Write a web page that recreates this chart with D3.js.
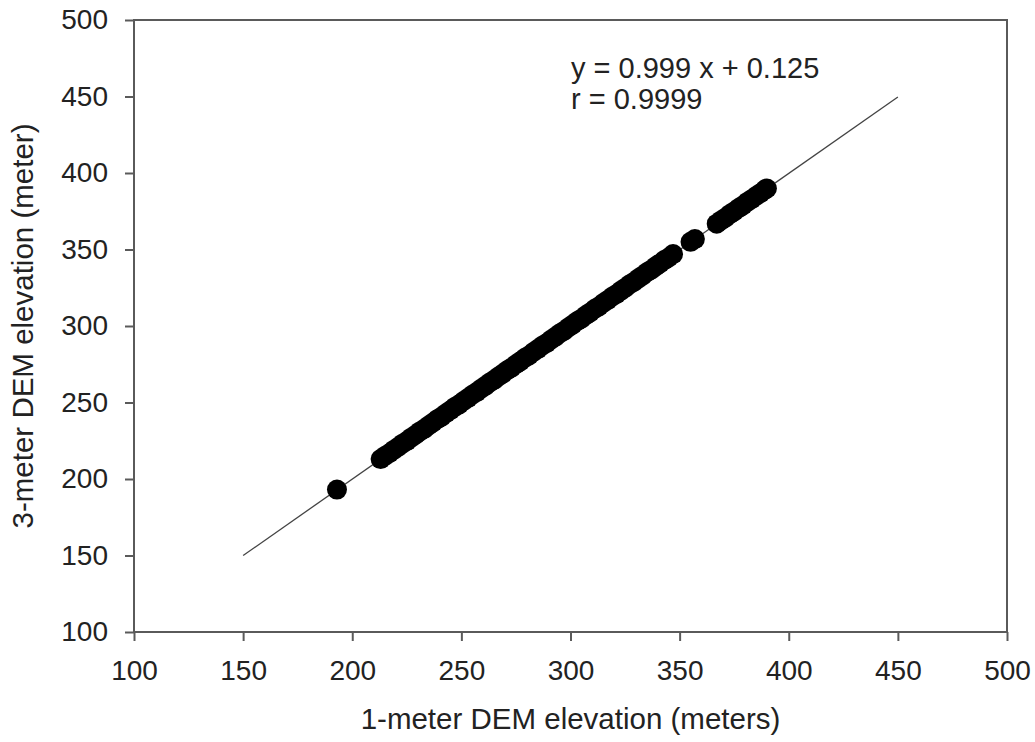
<!DOCTYPE html>
<html>
<head>
<meta charset="utf-8">
<script src="https://cdn.jsdelivr.net/npm/d3@7"></script>
<style>
  html, body { margin: 0; padding: 0; background: #fff; }
  svg text { font-family: Arial, "Liberation Sans", Helvetica, sans-serif; fill: #222; }
</style>
</head>
<body>
<svg id="chart" width="1035" height="742"></svg>
<script>
// ---- data ----
const xTicks = [100, 150, 200, 250, 300, 350, 400, 450, 500];
const yTicks = [100, 150, 200, 250, 300, 350, 400, 450, 500];
const xLabel = "1-meter DEM elevation (meters)";
const yLabel = "3-meter DEM elevation (meter)";
const eqText = ["y = 0.999 x + 0.125", "r = 0.9999"];
const fitSlope = 0.999;
const fitIntercept = 0.125;
const fitRange = [150, 450];

const ptsX = [193,
  213, 215, 217, 219, 221, 223, 225, 227, 229, 231, 233, 235, 237, 239, 241, 243, 245, 247, 249,
  251, 253, 255, 257, 259, 261, 263, 265, 267, 269, 271, 273, 275, 277, 279, 281, 283, 285, 287,
  289, 291, 293, 295, 297, 299, 301, 303, 305, 307, 309, 311, 313, 315, 317, 319, 321, 323, 325,
  327, 329, 331, 333, 335, 337, 339, 341, 343, 345, 347,
  355, 357,
  367, 369, 371, 373, 375, 377, 379, 381, 383, 385, 387, 389, 390];
const ptsY = [193.1,
  213.0, 215.1, 216.8, 219.0, 220.9, 223.1, 224.8, 227.0, 228.9, 231.1, 232.8, 235.0, 236.9, 239.1, 240.8, 243.0, 244.9, 247.1, 248.8,
  251.0, 252.9, 255.1, 256.8, 259.0, 260.9, 263.1, 264.8, 267.0, 268.9, 271.1, 272.8, 275.0, 276.9, 279.1, 280.8, 283.0, 284.9, 287.1,
  288.8, 291.0, 292.9, 295.1, 296.8, 299.0, 300.9, 303.1, 304.8, 307.0, 308.9, 311.1, 312.8, 315.0, 316.9, 319.1, 320.8, 323.0, 324.9,
  327.1, 328.8, 331.0, 332.9, 335.1, 336.8, 339.0, 340.9, 343.1, 344.8, 347.0,
  355.0, 356.8,
  366.9, 369.0, 370.8, 373.1, 374.9, 377.0, 378.8, 381.1, 382.9, 385.0, 386.8, 389.0, 389.9];

// ---- layout ----
const W = 1035, H = 742;
const margin = { left: 134, top: 20, right: 28, bottom: 110 };
const iw = W - margin.left - margin.right;
const ih = H - margin.top - margin.bottom;

const svg = d3.select("#chart");
const g = svg.append("g").attr("transform", `translate(${margin.left},${margin.top})`);

const x = d3.scaleLinear().domain([100, 500]).range([0, iw]);
const y = d3.scaleLinear().domain([100, 500]).range([ih, 0]);

// frame
g.append("rect").attr("x", 0).attr("y", 0).attr("width", iw).attr("height", ih)
  .attr("fill", "none").attr("stroke", "#5a5a5a").attr("stroke-width", 2);

// axes
const xAxis = g.append("g").attr("transform", `translate(0,${ih})`)
  .call(d3.axisBottom(x).tickValues(xTicks).tickSize(9).tickSizeOuter(0).tickPadding(19).tickFormat(d3.format("d")));
const yAxis = g.append("g")
  .call(d3.axisLeft(y).tickValues(yTicks).tickSize(9).tickSizeOuter(0).tickPadding(17).tickFormat(d3.format("d")));
[xAxis, yAxis].forEach(a => {
  a.select(".domain").remove();
  a.selectAll(".tick line").attr("stroke", "#5a5a5a").attr("stroke-width", 2);
  a.selectAll(".tick text").attr("font-size", 28).attr("fill", "#222")
    .style("font-family", "Arial, 'Liberation Sans', sans-serif");
});

// regression line
g.append("line")
  .attr("x1", x(fitRange[0])).attr("y1", y(fitSlope * fitRange[0] + fitIntercept))
  .attr("x2", x(fitRange[1])).attr("y2", y(fitSlope * fitRange[1] + fitIntercept))
  .attr("stroke", "#444").attr("stroke-width", 1.3);

// points
const pts = ptsX.map((v, i) => ({ x: v, y: ptsY[i] }));
g.append("g").selectAll("circle").data(pts).join("circle")
  .attr("cx", d => x(d.x)).attr("cy", d => y(d.y)).attr("r", 10)
  .attr("fill", "#000");

// equation text
g.append("text").attr("x", 571 - margin.left).attr("y", 78 - margin.top)
  .attr("font-size", 29).text(eqText[0]);
g.append("text").attr("x", 571 - margin.left).attr("y", 109 - margin.top)
  .attr("font-size", 29).text(eqText[1]);

// axis titles
svg.append("text").attr("x", margin.left + iw / 2).attr("y", 729)
  .attr("text-anchor", "middle").attr("font-size", 29.5).text(xLabel);
svg.append("text").attr("transform", `translate(33,${margin.top + ih / 2}) rotate(-90)`)
  .attr("text-anchor", "middle").attr("font-size", 29.5).text(yLabel);
</script>
</body>
</html>
